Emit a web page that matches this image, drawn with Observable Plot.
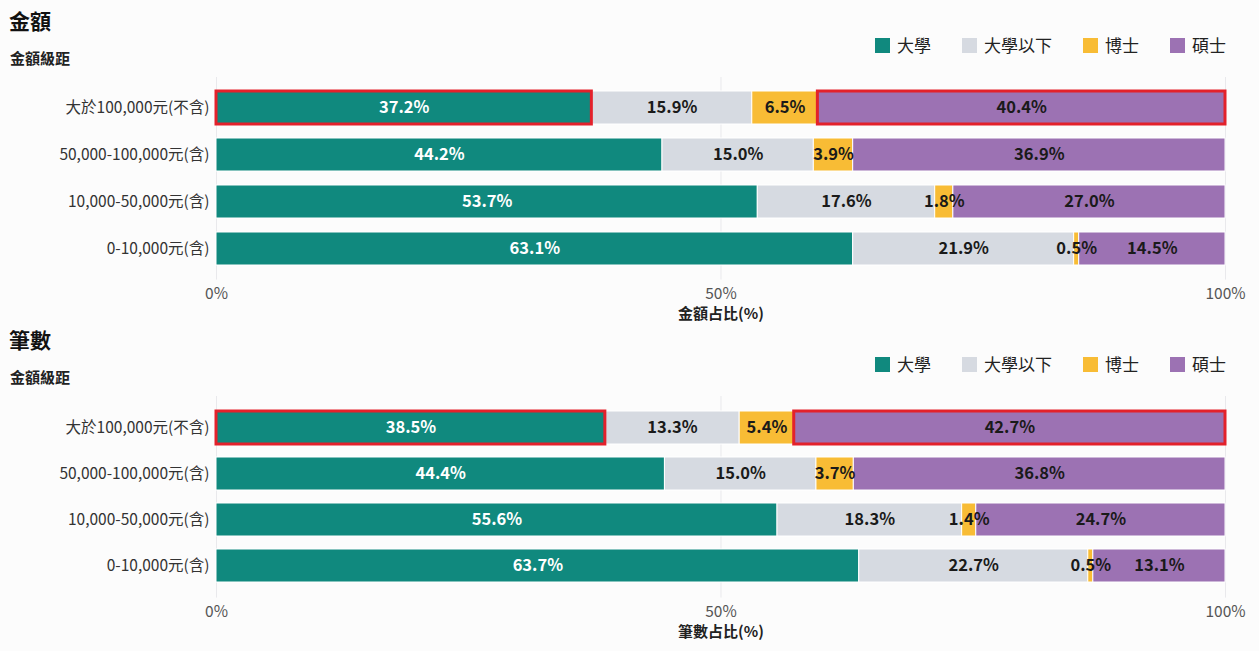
<!DOCTYPE html>
<html><head><meta charset="utf-8">
<script src="https://cdn.jsdelivr.net/npm/d3@7"></script>
<script src="https://cdn.jsdelivr.net/npm/@observablehq/plot@0.6"></script>
<style>
body{margin:0;background:#fcfcfc;font-family:"Noto Sans CJK TC","Noto Sans",sans-serif;}
#root{position:relative;width:1259px;height:651px;overflow:hidden;}
.block{position:absolute;left:0;width:1259px;height:319px;}
.title{position:absolute;left:9px;top:6px;font-size:21px;font-weight:700;color:#111;line-height:28px;}
.sub{position:absolute;left:10px;top:47px;font-size:15px;font-weight:700;color:#222;line-height:22px;}
.legend{position:absolute;right:33px;top:33px;display:flex;align-items:center;font-size:17px;color:#222;line-height:24px;}
.legend .item{display:flex;align-items:center;margin-left:31px;}
.legend .sw{width:15px;height:15px;margin-right:7px;}
.chart{position:absolute;left:0;top:70px;}
</style>
</head><body>
<div id="root"></div>
<script>
const categories = ["大於100,000元(不含)", "50,000-100,000元(含)", "10,000-50,000元(含)", "0-10,000元(含)"];
const seriesNames = ["大學", "大學以下", "博士", "碩士"];
const seriesColors = ["#10897e", "#d6dae1", "#f8bc35", "#9c72b3"];
const labelColors = ["#ffffff", "#1a1a1a", "#1a1a1a", "#1a1a1a"];
const xTicks = [0, 0.5, 1];

// 金額
const amountUniv   = [37.2, 44.2, 53.7, 63.1];
const amountBelow  = [15.9, 15.0, 17.6, 21.9];
const amountPhD    = [6.5, 3.9, 1.8, 0.5];
const amountMaster = [40.4, 36.9, 27.0, 14.5];

// 筆數
const countUniv   = [38.5, 44.4, 55.6, 63.7];
const countBelow  = [13.3, 15.0, 18.3, 22.7];
const countPhD    = [5.4, 3.7, 1.4, 0.5];
const countMaster = [42.7, 36.8, 24.7, 13.1];

const highlightCategory = "大於100,000元(不含)";
const highlightSeries = ["大學", "碩士"];

function buildRows(arrays) {
  const rows = [];
  categories.forEach((c, i) => {
    const vals = arrays.map(a => a[i]);
    const total = d3.sum(vals);
    let acc = 0;
    vals.forEach((v, j) => {
      const x1 = acc / total;
      acc += v;
      const x2 = acc / total;
      rows.push({cat: c, series: seriesNames[j], value: v, x1, x2, mid: (x1 + x2) / 2,
        hi: c === highlightCategory && highlightSeries.includes(seriesNames[j])});
    });
  });
  return rows;
}

function makeBlock(top, title, axisLabel, arrays, mb) {
  const block = document.createElement("div");
  block.className = "block";
  block.style.top = top + "px";
  const t = document.createElement("div"); t.className = "title"; t.textContent = title; block.appendChild(t);
  const s = document.createElement("div"); s.className = "sub"; s.textContent = "金額級距"; block.appendChild(s);
  const lg = document.createElement("div"); lg.className = "legend";
  seriesNames.forEach((n, i) => {
    const it = document.createElement("div"); it.className = "item";
    const sw = document.createElement("div"); sw.className = "sw"; sw.style.background = seriesColors[i];
    const tx = document.createElement("span"); tx.textContent = n;
    it.appendChild(sw); it.appendChild(tx); lg.appendChild(it);
  });
  block.appendChild(lg);

  const rows = buildRows(arrays);
  const chart = Plot.plot({
    width: 1259,
    height: 260,
    marginLeft: 216,
    marginRight: 34,
    marginTop: 7,
    marginBottom: mb,
    style: {fontSize: "15.5px", fontFamily: '"Noto Sans CJK TC","Noto Sans",sans-serif', background: "transparent"},
    x: {domain: [0, 1]},
    y: {domain: categories, padding: 0.29, label: null},
    color: {domain: seriesNames, range: seriesColors},
    marks: [
      Plot.ruleX(xTicks, {stroke: "#e9e9ec", strokeWidth: 1}),
      Plot.barX(rows, {x1: "x1", x2: "x2", y: "cat", fill: "series", stroke: "white", strokeWidth: 1}),
      Plot.barX(rows, {filter: d => d.hi, x1: "x1", x2: "x2", y: "cat", fill: "none", stroke: "#e3212b", strokeWidth: 3}),
      Plot.text(rows, {filter: d => d.series === "大學", x: "mid", y: "cat", text: d => d.value.toFixed(1) + "%", fill: labelColors[0], fontWeight: "bold", fontSize: 16.5}),
      Plot.text(rows, {filter: d => d.series !== "大學", x: "mid", y: "cat", text: d => d.value.toFixed(1) + "%", fill: labelColors[1], fontWeight: "bold", fontSize: 16.5}),
      Plot.axisY({tickSize: 0, tickPadding: 7, fill: "#333", label: null}),
      Plot.axisX({ticks: xTicks, tickSize: 0, tickPadding: 8, tickFormat: d3.format(".0%"), fill: "#555", label: null}),
      Plot.text([axisLabel], {frameAnchor: "bottom", lineAnchor: "middle", dy: 34, fontWeight: "bold", fontSize: 15, fill: "#222"})
    ]
  });
  chart.classList.add("chart");
  block.appendChild(chart);
  document.getElementById("root").appendChild(block);
}

makeBlock(0, "金額", "金額占比(%)", [amountUniv, amountBelow, amountPhD, amountMaster], 50.4);
makeBlock(319, "筆數", "筆數占比(%)", [countUniv, countBelow, countPhD, countMaster], 51.4);
</script>
</body></html>
